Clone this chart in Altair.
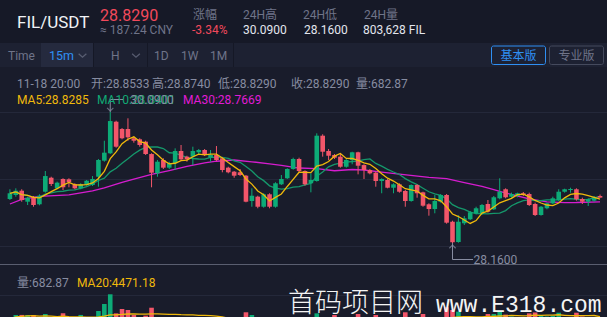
import altair as alt
import pandas as pd

# ---------------- data (15m candles, FIL/USDT) ----------------
opens = [28.809, 28.868, 28.931, 28.769, 28.843, 28.731, 28.916, 29.122, 28.966, 29.103,
         29.099, 29.025, 28.966, 29.015, 29.015, 29.137, 29.373, 29.482, 29.947, 29.840,
         29.840, 29.703, 29.688, 29.653, 29.471, 29.187, 29.383, 29.270, 29.335, 29.516,
         29.432, 29.432, 29.497, 29.530, 29.417, 29.457, 29.408, 29.270, 29.211, 29.202,
         29.152, 28.779, 28.843, 28.695, 28.878, 28.695, 29.025, 29.114, 29.251, 29.398,
         29.221, 29.040, 29.074, 29.741, 29.516, 29.457, 29.432, 29.284, 29.383, 29.497,
         29.309, 29.236, 29.196, 29.074, 29.089, 28.975, 29.025, 28.927, 28.779, 29.015,
         28.907, 28.731, 28.661, 28.769, 28.868, 28.474, 28.175, 28.451, 28.510, 28.598,
         28.588, 28.735, 28.657, 28.819, 28.952, 28.843, 28.853, 28.893, 28.882, 28.735,
         28.573, 28.672, 28.745, 28.794, 28.916, 28.941, 28.952, 28.809, 28.769, 28.784,
         28.8533]
highs = [28.952, 28.966, 28.952, 28.843, 28.853, 28.878, 29.221, 29.137, 29.064, 29.114,
         29.114, 29.040, 29.040, 29.089, 29.147, 29.398, 29.667, 30.090, 29.962, 29.854,
         29.997, 29.726, 29.703, 29.667, 29.482, 29.383, 29.408, 29.358, 29.555, 29.604,
         29.446, 29.579, 29.545, 29.545, 29.530, 29.589, 29.423, 29.284, 29.221, 29.251,
         29.162, 28.966, 28.857, 28.893, 28.893, 29.055, 29.162, 29.261, 29.417, 29.417,
         29.231, 29.187, 29.776, 29.762, 29.545, 29.471, 29.482, 29.398, 29.505, 29.505,
         29.320, 29.251, 29.211, 29.114, 29.103, 29.040, 29.040, 28.941, 29.025, 29.025,
         28.916, 28.745, 28.868, 28.882, 28.882, 28.489, 28.569, 28.558, 28.632, 28.695,
         28.735, 28.794, 28.853, 29.114, 28.966, 28.902, 28.902, 28.912, 28.902, 28.754,
         28.706, 28.754, 28.843, 28.952, 28.960, 28.975, 28.966, 28.828, 28.819, 28.853,
         28.8740]
lows = [28.794, 28.843, 28.769, 28.720, 28.695, 28.716, 28.902, 29.000, 28.952, 28.941,
        28.981, 28.952, 28.952, 29.005, 29.000, 28.990, 29.358, 29.471, 29.564, 29.688,
        29.667, 29.638, 29.579, 29.457, 28.981, 29.137, 29.251, 29.251, 29.236, 29.373,
        29.358, 29.309, 29.467, 29.442, 29.358, 29.368, 29.202, 29.187, 29.122, 29.147,
        28.760, 28.695, 28.672, 28.681, 28.672, 28.681, 29.015, 29.103, 29.240, 29.202,
        29.005, 28.907, 29.064, 29.432, 29.383, 29.398, 29.270, 29.270, 29.320, 29.172,
        29.103, 29.172, 28.990, 28.893, 28.966, 28.893, 28.902, 28.695, 28.769, 28.828,
        28.695, 28.563, 28.598, 28.754, 28.445, 28.160, 28.165, 28.426, 28.499, 28.583,
        28.573, 28.607, 28.647, 28.804, 28.819, 28.828, 28.834, 28.853, 28.706, 28.558,
        28.563, 28.657, 28.731, 28.779, 28.902, 28.902, 28.784, 28.735, 28.706, 28.769,
        28.8290]
closes = [28.893, 28.931, 28.794, 28.828, 28.720, 28.857, 29.147, 29.030, 29.049, 28.981,
          29.055, 28.966, 29.025, 29.078, 29.103, 29.383, 29.491, 29.957, 29.579, 29.703,
          29.717, 29.667, 29.604, 29.471, 29.196, 29.358, 29.270, 29.335, 29.516, 29.393,
          29.393, 29.516, 29.530, 29.457, 29.457, 29.383, 29.236, 29.202, 29.152, 29.162,
          28.769, 28.857, 28.695, 28.878, 28.695, 29.040, 29.103, 29.251, 29.398, 29.221,
          29.025, 29.089, 29.741, 29.505, 29.446, 29.417, 29.284, 29.383, 29.497, 29.299,
          29.236, 29.187, 29.074, 29.103, 28.975, 29.025, 28.916, 28.779, 29.015, 28.893,
          28.710, 28.661, 28.779, 28.868, 28.460, 28.172, 28.474, 28.524, 28.613, 28.672,
          28.720, 28.622, 28.834, 28.916, 28.834, 28.882, 28.893, 28.868, 28.720, 28.573,
          28.695, 28.745, 28.819, 28.916, 28.952, 28.956, 28.804, 28.769, 28.804, 28.834,
          28.8290]
volumes = [4100, 4750, 4750, 4740, 4750, 4300, 4900, 4200, 3900, 5000,
           3800, 4000, 4750, 3700, 4300, 5370, 6480, 8010, 5000, 5690,
           5530, 4740, 4200, 4630, 5890, 4300, 3900, 3400, 4200, 3900,
           3300, 4000, 3200, 3500, 3300, 3900, 4300, 3600, 3500, 3400,
           5170, 4740, 4300, 4200, 4300, 4400, 3600, 3900, 4000, 4100,
           4300, 4400, 5000, 4400, 3900, 4740, 4000, 3500, 3800, 4900,
           4200, 3700, 4740, 4000, 4100, 3600, 4300, 5170, 4400, 4000,
           4900, 4200, 4400, 3900, 5950, 5530, 5270, 4300, 4200, 3900,
           4400, 4900, 4900, 5300, 4800, 4500, 4200, 4300, 5000, 5140,
           4700, 4500, 4600, 5100, 4300, 4200, 5100, 4500, 4400, 4300,
           682.87]
ma30_index = [0, 2, 5, 10, 14, 16, 19, 21, 24, 27, 30, 33, 35, 38, 41, 44, 46, 49,
              52, 55, 58, 60, 63, 66, 71, 74, 77, 80, 82, 83, 85, 88, 91, 94, 96, 100]
ma30_values = [28.735, 28.804, 28.848, 28.868, 28.927, 28.971, 29.052, 29.103, 29.172,
               29.228, 29.290, 29.342, 29.365, 29.383, 29.357, 29.327, 29.304, 29.265,
               29.255, 29.225, 29.243, 29.236, 29.206, 29.174, 29.128, 29.109, 29.050,
               28.993, 28.947, 28.922, 28.875, 28.812, 28.767, 28.756, 28.757, 28.7669]
high_mark = {"i": [17], "p": [30.09]}
low_mark = {"i": [75], "p": [28.16]}

# ---------------- styling ----------------
BG = "#191c2b"
HEADER_BG = "#161927"
TOOL_BG = "#1d2132"
TAB_BG = "#252a3e"
GRID = "#24283a"
GREEN = "#0dab77"
RED = "#f2566a"
YEL = "#f0b90b"
MA10C = "#15976b"
MAG = "#d61ccf"
GRAY = "#6f7489"
INFO = "#878ca1"
WHITE = "#e3e6ee"
BLUE = "#2f8ff3"
SANS = "Roboto, 'Noto Sans CJK SC', sans-serif"

W, H = 607, 317

df = pd.DataFrame({"i": list(range(len(closes))), "open": opens, "high": highs,
                   "low": lows, "close": closes, "vol": volumes})
df["dir"] = ["up" if c >= o else "down" for o, c in zip(opens, closes)]
ma30_df = pd.DataFrame({"i": ma30_index, "ma30": ma30_values})
ONE = pd.DataFrame({"a": [0]})

XS = alt.Scale(domain=[-5 / 6, W / 6 - 5 / 6], nice=False, zero=False)
PS = alt.Scale(domain=[27.0709, 31.7395], nice=False, zero=False)
VS = alt.Scale(domain=[4423, 54502], nice=False, zero=False)
CS = alt.Scale(domain=["up", "down"], range=[GREEN, RED])

def X(f="i:Q"):
    return alt.X(f, scale=XS, axis=None)

def PY(f):
    return alt.Y(f, scale=PS, axis=None)

def label(s, x, y, color, size=12, align="left", font=SANS, weight="normal"):
    return alt.Chart(ONE).mark_text(text=s, align=align, baseline="alphabetic", fontSize=size,
                                    color=color, font=font, fontWeight=weight).encode(
        x=alt.value(x), y=alt.value(y))

def box(x, x2, y, y2, fill):
    return alt.Chart(ONE).mark_rect(color=fill).encode(
        x=alt.value(x), x2=alt.value(x2), y=alt.value(y), y2=alt.value(y2))

def outline(x, x2, y, y2, stroke):
    return alt.Chart(ONE).mark_rect(fillOpacity=0, stroke=stroke, strokeWidth=1, cornerRadius=2).encode(
        x=alt.value(x), x2=alt.value(x2), y=alt.value(y), y2=alt.value(y2))

def hline(y, color, x=0, x2=W):
    return alt.Chart(ONE).mark_rule(color=color, strokeWidth=1).encode(
        x=alt.value(x), x2=alt.value(x2), y=alt.value(y))

def vline(x, y, y2, color):
    return alt.Chart(ONE).mark_rule(color=color, strokeWidth=1).encode(
        x=alt.value(x), y=alt.value(y), y2=alt.value(y2))

def chevron(x, y, color):
    return alt.Chart(ONE).mark_point(shape="M-1,-0.45L0,0.45L1,-0.45", filled=False,
                                     color=color, strokeWidth=1.3, size=60).encode(
        x=alt.value(x), y=alt.value(y))

layers = []
# backgrounds
layers += [box(0, W, 0, 43, HEADER_BG), box(0, W, 43, 67, TOOL_BG), box(41, 93, 43, 67, TAB_BG),
           vline(93.5, 43, 67, "#151826"), vline(147.5, 43, 67, "#151826"), vline(233.5, 43, 67, "#151826")]
# grid
layers += [hline(112.5, GRID), hline(179.5, GRID), hline(246.5, GRID), hline(295.5, GRID),
           hline(264.5, "#5a5e70")]

# volume pane (drawn first so the price pane sits on top)
vbar = alt.Chart(df).mark_bar(size=4.6, clip=True).encode(
    x=X(), y=alt.Y("vol:Q", scale=VS, axis=None), y2=alt.datum(0),
    color=alt.Color("dir:N", scale=CS, legend=None))
vma = alt.Chart(df).transform_window(
    ma20="mean(vol)", frame=[-19, 0], sort=[{"field": "i"}]).mark_line(
    color=YEL, strokeWidth=1.3, clip=True).encode(x=X(), y=alt.Y("ma20:Q", scale=VS, axis=None))
volume = alt.layer(vbar, vma)

# candles
wick = alt.Chart(df).mark_rule(strokeWidth=1).encode(
    x=X(), y=PY("low:Q"), y2="high:Q", color=alt.Color("dir:N", scale=CS, legend=None))
body = alt.Chart(df).mark_bar(size=4.6, minBandSize=1).encode(
    x=X(), y=PY("open:Q"), y2="close:Q", color=alt.Color("dir:N", scale=CS, legend=None))
ma_base = alt.Chart(df).transform_window(
    ma5="mean(close)", frame=[-4, 0], sort=[{"field": "i"}]).transform_window(
    ma10="mean(close)", frame=[-9, 0], sort=[{"field": "i"}])
ma5 = ma_base.mark_line(color=YEL, strokeWidth=1.3).encode(x=X(), y=PY("ma5:Q"))
ma10 = ma_base.mark_line(color=MA10C, strokeWidth=1.3).encode(x=X(), y=PY("ma10:Q"))
ma30 = alt.Chart(ma30_df).mark_line(color=MAG, strokeWidth=1.3).encode(x=X(), y=PY("ma30:Q"))

hi_df = pd.DataFrame(high_mark)
lo_df = pd.DataFrame(low_mark)
hi_v = alt.Chart(hi_df).mark_rule(color=INFO).encode(x=X(), y=PY("p:Q"), y2=alt.value(99.5))
hi_h = alt.Chart(hi_df).mark_rule(color=INFO).encode(x=X(), x2=alt.value(123), y=alt.value(99.5))
hi_a = alt.Chart(hi_df).mark_point(shape="M-1,-1L0,0L1,-1", filled=False, color=INFO,
                                   strokeWidth=1.2, size=40, yOffset=-1).encode(x=X(), y=PY("p:Q"))
hi_t = alt.Chart(hi_df).mark_text(align="left", baseline="alphabetic", fontSize=12, color=INFO,
                                  font=SANS, dx=20).encode(
    x=X(), y=alt.value(103.8), text=alt.Text("p:Q", format=".4f"))
lo_v = alt.Chart(lo_df).mark_rule(color=INFO).encode(x=X(), y=PY("p:Q"), y2=alt.value(259.5))
lo_h = alt.Chart(lo_df).mark_rule(color=INFO).encode(x=X(), x2=alt.value(473), y=alt.value(259.5))
lo_a = alt.Chart(lo_df).mark_point(shape="M-1,1L0,0L1,1", filled=False, color=INFO,
                                   strokeWidth=1.2, size=40, yOffset=2).encode(x=X(), y=PY("p:Q"))
lo_t = alt.Chart(lo_df).mark_text(align="left", baseline="alphabetic", fontSize=12, color=INFO,
                                  font=SANS, dx=21).encode(
    x=X(), y=alt.value(263.5), text=alt.Text("p:Q", format=".4f"))

price = alt.layer(ma30, ma10, wick, body, ma5, hi_v, hi_h, hi_a, lo_v, lo_h, lo_a)

layers += [volume, price]

# header texts
layers += [
    label("FIL/USDT", 17, 28, "#f0f2f6", 17),
    label("28.8290", 100, 20.5, "#f2495c", 16),
    label("≈ 187.24 CNY", 100, 34.3, GRAY, 12),
    label("涨幅", 193, 18.5, GRAY, 12),
    label("-3.34%", 192, 34.3, "#f2495c", 12),
    label("24H高", 243, 18.5, GRAY, 12),
    label("30.0900", 243, 34.3, WHITE, 12),
    label("24H低", 303, 18.5, GRAY, 12),
    label("28.1600", 304, 34.3, WHITE, 12),
    label("24H量", 364, 18.5, GRAY, 12),
    label("803,628 FIL", 363, 34.3, WHITE, 12),
    # toolbar
    label("Time", 8, 60, GRAY, 12),
    label("15m", 49, 60, BLUE, 12.5),
    chevron(82.5, 55.5, GRAY),
    label("H", 111, 60, GRAY, 12),
    chevron(136, 55.5, GRAY),
    label("1D", 154, 60, GRAY, 12),
    label("1W", 181, 60, GRAY, 12),
    label("1M", 210, 60, GRAY, 12),
    outline(491.5, 545.5, 46, 64.5, BLUE),
    label("基本版", 518.5, 59.8, BLUE, 12, align="center"),
    outline(549.5, 603.5, 46, 64.5, "#454a5d"),
    label("专业版", 576.5, 59.8, GRAY, 12, align="center"),
    # info line
    label("11-18 20:00", 17, 88.3, INFO, 12),
    label("开:28.8533", 91, 88.3, INFO, 12),
    label("高:28.8740", 152, 88.3, INFO, 12),
    label("低:28.8290", 218, 88.3, INFO, 12),
    label("收:28.8290", 291, 88.3, INFO, 12),
    label("量:682.87", 356, 88.3, INFO, 12),
    # MA legend
    label("MA5:28.8285", 17, 104.3, YEL, 12),
    label("MA10:28.8401", 97, 104.3, "#10a974", 12),
    label("MA30:28.7669", 183, 104.3, "#e11bd6", 12),
    hi_t, lo_t,
    # volume legend
    label("量:682.87", 17, 287, INFO, 12),
    label("MA20:4471.18", 77, 287, YEL, 12),
    # watermark
    label("首码项目网", 288, 312, "#f4f4f4", 27, font="'Noto Sans CJK SC'", weight=300),
    label("www.E318.com", 436, 312, "#f4f4f4", 23, font="'Liberation Mono'"),
]

chart = alt.layer(*layers).resolve_scale(y="independent").properties(
    width=W, height=H, padding=0, background=BG,
    autosize=alt.AutoSizeParams(type="none"),
).configure_view(strokeWidth=0)

chart.save("out.html", embed_options={"renderer": "svg", "actions": False})
